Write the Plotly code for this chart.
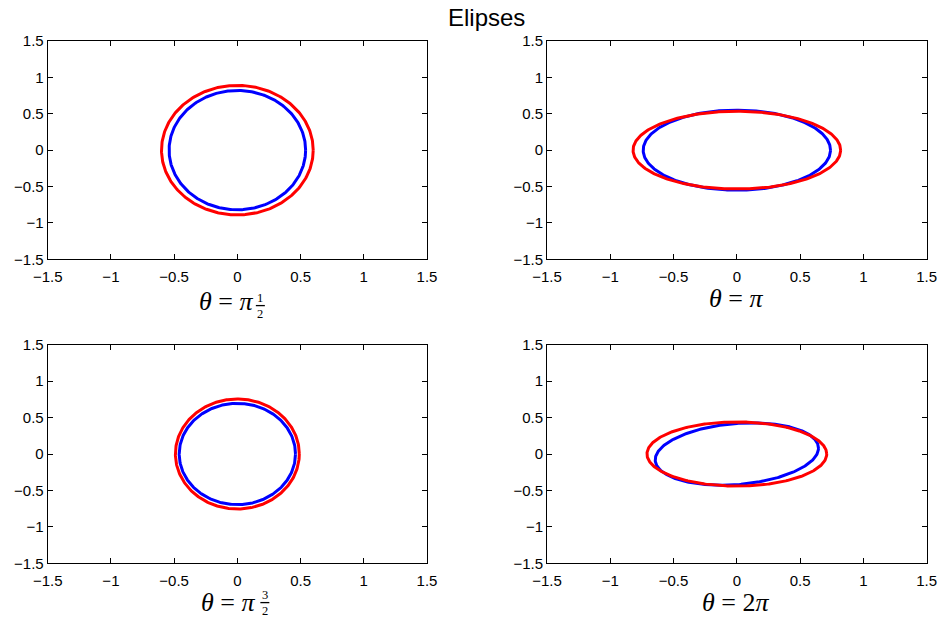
import numpy as np
import plotly.graph_objects as go

# ---- data ----
label_main = ["<i>θ</i> = <i>π</i>", "<i>θ</i> = <i>π</i>", "<i>θ</i> = <i>π</i>", "<i>θ</i> = 2<i>π</i>"]
label_num = ["1", "", "3", ""]
label_den = ["2", "", "2", ""]

# ellipse = [[sx, 0], [shear, sy]] applied to the unit circle
red_semi_x = [0.60, 0.82, 0.49, 0.71]
red_semi_y = [0.89, 0.535, 0.755, 0.44]
blue_semi_x = [0.54, 0.74, 0.46, 0.645]
blue_semi_y = [0.82, 0.55, 0.695, 0.42]
blue_shear = [0.0, 0.0, 0.0, 0.08]

tick_vals = [-1.5, -1, -0.5, 0, 0.5, 1, 1.5]
tick_text = ["\u22121.5", "\u22121", "\u22120.5", "0", "0.5", "1", "1.5"]
title_text = "Elipses"

# ---- layout geometry (pixels) ----
W, H = 940, 623
col_px = [(47.7, 427.0), (547.0, 926.7)]
row_px = [(41.0, 259.3), (344.7, 563.3)]
label_cy = [301.0, 298.0, 602.0, 602.0]
main_right_off = [18.0, None, 20.0, None]
frac_x_off = [23.0, None, 27.5, None]
frac_bar_y = [305.6, None, 602.6, None]

def px_x(p):
    return p / W

def px_y(p):
    return 1 - p / H

t = np.linspace(0, 2 * np.pi, 361)
fig = go.Figure()
annotations = []
shapes = []
serif = dict(family="Liberation Serif, Times New Roman, serif", color="black")

for i in range(4):
    r, c = divmod(i, 2)
    n = i + 1
    xa = "x" if n == 1 else f"x{n}"
    ya = "y" if n == 1 else f"y{n}"
    bx = blue_semi_x[i] * np.cos(t)
    by = blue_semi_y[i] * np.sin(t) + blue_shear[i] * np.cos(t)
    rx = red_semi_x[i] * np.cos(t)
    ry = red_semi_y[i] * np.sin(t)
    fig.add_trace(go.Scatter(x=bx, y=by, mode="lines", line=dict(color="#0000ff", width=3),
                             xaxis=xa, yaxis=ya, showlegend=False, hoverinfo="skip"))
    fig.add_trace(go.Scatter(x=rx, y=ry, mode="lines", line=dict(color="#ff0000", width=3),
                             xaxis=xa, yaxis=ya, showlegend=False, hoverinfo="skip"))

    x0, x1 = col_px[c]
    y0, y1 = row_px[r]
    axis_common = dict(range=[-1.5, 1.5], tickmode="array", tickvals=tick_vals, ticktext=tick_text,
                       ticks="inside", ticklen=5, tickwidth=1, tickcolor="black",
                       showline=True, linecolor="black", linewidth=1, mirror="ticks",
                       showgrid=False, zeroline=False, fixedrange=True, automargin=False,
                       tickfont=dict(family="Liberation Sans, Arial, sans-serif", size=15, color="black"))
    fig.layout[f"xaxis{'' if n == 1 else n}"] = dict(axis_common, domain=[px_x(x0), px_x(x1)], anchor=ya,
                                                      ticklabelstandoff=4)
    fig.layout[f"yaxis{'' if n == 1 else n}"] = dict(axis_common, domain=[px_y(y1), px_y(y0)], anchor=xa)

    cx = (x0 + x1) / 2
    ly = label_cy[i]
    if label_num[i]:
        annotations.append(dict(text=label_main[i], x=px_x(cx + main_right_off[i]), y=px_y(ly),
                                xref="paper", yref="paper", xanchor="right", yanchor="middle",
                                showarrow=False, font=dict(serif, size=26)))
        fx = cx + frac_x_off[i]
        annotations.append(dict(text=f"{label_num[i]}<br>{label_den[i]}", x=px_x(fx), y=px_y(frac_bar_y[i]),
                                xref="paper", yref="paper", xanchor="center", yanchor="middle",
                                align="center", showarrow=False, font=dict(serif, size=12.5)))
        shapes.append(dict(type="line", xref="paper", yref="paper", x0=px_x(fx - 4.5), x1=px_x(fx + 4.5),
                           y0=px_y(frac_bar_y[i]), y1=px_y(frac_bar_y[i]), line=dict(color="black", width=1.3)))
    else:
        annotations.append(dict(text=label_main[i], x=px_x(cx - 1), y=px_y(ly), xref="paper", yref="paper",
                                xanchor="center", yanchor="middle", showarrow=False, font=dict(serif, size=26)))

annotations.append(dict(text=title_text, x=px_x(486), y=px_y(17), xref="paper", yref="paper",
                        xanchor="center", yanchor="middle", showarrow=False,
                        font=dict(family="Liberation Sans, Arial, sans-serif", size=24, color="black")))

fig.update_layout(template="none", width=W, height=H, margin=dict(l=0, r=0, t=0, b=0, pad=0),
                  paper_bgcolor="white", plot_bgcolor="white",
                  annotations=annotations, shapes=shapes, showlegend=False)

fig.write_html("out.html", config={"displayModeBar": False})
